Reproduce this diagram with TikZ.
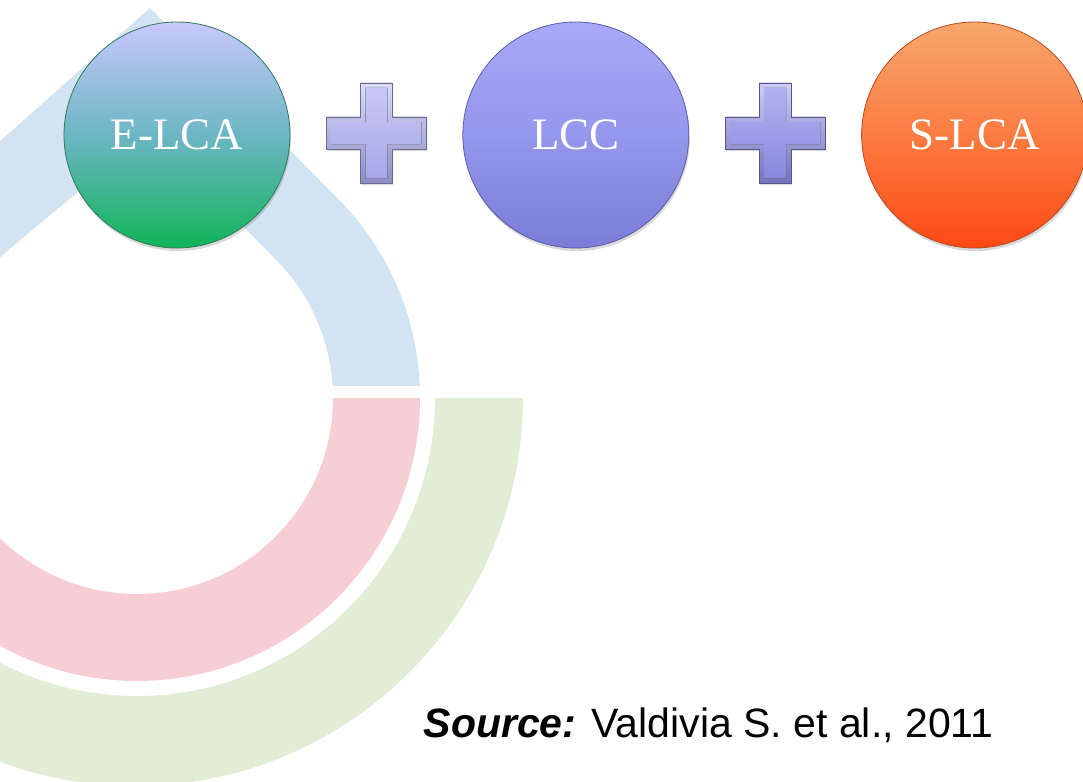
\documentclass[tikz,border=0pt]{standalone}
\usepackage{fontspec}
\setmainfont{Liberation Serif}
\newfontfamily\sourcefont{Liberation Sans}
\usetikzlibrary{positioning, calc, shadows}

\definecolor{dropblue}{HTML}{D2E3F1}
\definecolor{ringpink}{HTML}{F7CED4}
\definecolor{ringgreen}{HTML}{E2EDD5}
\definecolor{pluslight}{HTML}{B0B0F4}
\definecolor{plusdark}{HTML}{9090EA}
\definecolor{elcaedge}{HTML}{2F7A5C}
\definecolor{elcatop}{HTML}{C8C8FC}
\definecolor{elcamid}{HTML}{6CB6C4}
\definecolor{elcabot}{HTML}{10B458}
\definecolor{lccedge}{HTML}{5A5CA8}
\definecolor{lcctop}{HTML}{A8A8F8}
\definecolor{lccmid}{HTML}{9597EC}
\definecolor{lccbot}{HTML}{7A7CD6}
\definecolor{slcaedge}{HTML}{B84A22}
\definecolor{slcatop}{HTML}{F6A66C}
\definecolor{slcamid}{HTML}{FB7C42}
\definecolor{slcabot}{HTML}{FF4814}

\tikzset{
  bubble/.style={circle, minimum size=226pt, inner sep=0pt, text=white,
    line width=0.8pt, font=\fontsize{45}{50}\selectfont,
    drop shadow={shadow xshift=1pt, shadow yshift=-3pt, opacity=0.3}},
  elcabubble/.style={bubble, draw=elcaedge, top color=elcatop,
    bottom color=elcabot, middle color=elcamid},
  lccbubble/.style={bubble, draw=lccedge, top color=lcctop,
    bottom color=lccbot, middle color=lccmid},
  slcabubble/.style={bubble, draw=slcaedge, top color=slcatop,
    bottom color=slcabot, middle color=slcamid},
  pics/plussign/.style={code={
    \fill[top color=#1!45!white, bottom color=#1!80!black, draw=#1!60!black,
      line width=0.6pt, drop shadow={shadow xshift=1pt, shadow yshift=-2pt, opacity=0.3}]
      (-16,-50) -- (16,-50) -- (16,-16) -- (50,-16) -- (50,16) -- (16,16)
      -- (16,50) -- (-16,50) -- (-16,16) -- (-50,16) -- (-50,-16) -- (-16,-16) -- cycle;
    \fill[top color=#1!70!white, bottom color=#1!95!black]
      (-11,-45) -- (11,-45) -- (11,-11) -- (45,-11) -- (45,11) -- (11,11)
      -- (11,45) -- (-11,45) -- (-11,11) -- (-45,11) -- (-45,-11) -- (-11,-11) -- cycle;
  }}
}

\begin{document}
\begin{tikzpicture}[x=1pt, y=-1pt]
  \useasboundingbox (0,0) rectangle (1083,781);
  \clip (0,0) rectangle (1083,781);
  %
  % faded drop in the background
  \begin{scope}
    \clip (0,0) rectangle (1083,385);
    \fill[dropblue, even odd rule]
      (150,8) -- (338.5,199.3) arc[start angle=-44.6, end angle=228.4, radius=283] -- cycle
      (150,132) -- (276.5,260.3) arc[start angle=-44.6, end angle=230.2, radius=196] -- cycle;
  \end{scope}
  \fill[ringpink] (420,398) arc[start angle=0, end angle=180, radius=283]
    -- (-59,398) arc[start angle=180, end angle=0, radius=196] -- cycle;
  \fill[ringgreen] (523,398) arc[start angle=0, end angle=180, radius=388]
    -- (-161,398) arc[start angle=180, end angle=0, radius=298] -- cycle;
  %
  \node[elcabubble] (elca) at (177,135) {E-LCA};
  \node[lccbubble, right=172pt of elca] (lcc) {LCC};
  \node[slcabubble, right=172pt of lcc] (slca) {S-LCA};
  %
  \pic (plusa) at ($(elca)!0.5!(lcc)+(0,-2)$) {plussign=pluslight};
  \pic (plusb) at ($(lcc)!0.5!(slca)+(0,-2)$) {plussign=plusdark};
  %
  \node[anchor=base east, font=\sourcefont\fontsize{41}{48}\selectfont] (src) at (997,737)
    {\textbf{\textit{Source:}} Valdivia S. et al., 2011};
\end{tikzpicture}
\end{document}
